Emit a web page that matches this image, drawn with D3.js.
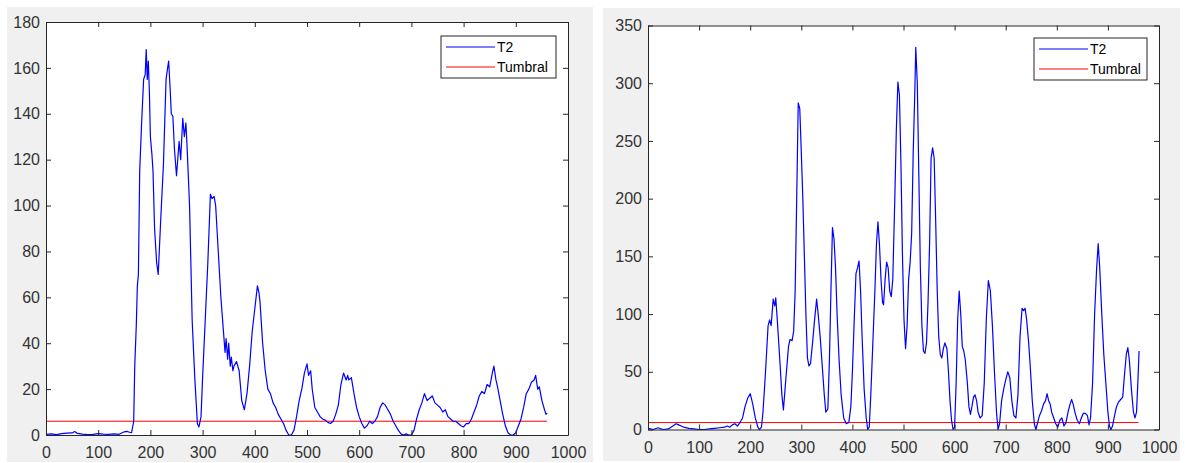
<!DOCTYPE html>
<html lang="en">
  <head>
    <meta charset="UTF-8" />
    <title>T2 vs Tumbral</title>
    <script src="https://d3js.org/d3.v7.min.js"></script>
    <style>
      body { margin: 0; background: #fff; }
      text { font-family: "Liberation Sans", Arial, sans-serif; }
    </style>
  </head>
  <body>
    <script>
      // ---- data ----
      const xTicks = [0, 100, 200, 300, 400, 500, 600, 700, 800, 900, 1000];
      const yTicksA = [0, 20, 40, 60, 80, 100, 120, 140, 160, 180];
      const yTicksB = [0, 50, 100, 150, 200, 250, 300, 350];
      const legendLabels = ["T2", "Tumbral"];
      const thresholdA = 6;
      const thresholdB = 6;
      const thresholdRange = [1, 960];

      const t2aX = [1, 10, 20, 30, 40, 50, 55, 60, 70, 80, 90, 100, 110, 120, 130, 140, 150, 155, 160, 164,
        168, 170, 173, 175, 177, 179.5, 183, 187, 190, 192, 194, 196, 198, 200, 203, 205, 208, 212, 215,
        220, 225, 230, 233, 235, 238, 240, 243, 246, 250, 255, 258, 262, 265, 268, 270, 275, 280, 285,
        290, 293, 297, 300, 305, 310, 315, 318, 322, 325, 330, 335, 340, 343, 345, 348, 350, 353, 355, 358, 360,
        365, 370, 375, 380, 385, 390, 395, 400, 405, 408, 410, 415, 420, 425, 430, 435, 440, 445, 450,
        455, 460, 465, 470, 475, 480, 485, 490, 495, 500, 503, 507, 510, 515, 520, 525, 530, 535, 540,
        545, 550, 555, 560, 565, 570, 575, 578, 580, 585, 590, 595, 600, 605, 610, 615, 620, 625, 630,
        635, 640, 645, 650, 655, 660, 665, 670, 675, 680, 685, 690, 695, 700, 705, 710, 715, 720, 725,
        730, 735, 740, 745, 750, 755, 760, 765, 770, 775, 780, 785, 790, 795, 800, 805, 810, 815, 820,
        825, 830, 835, 840, 845, 850, 855, 858, 862, 865, 870, 875, 880, 885, 890, 895, 900, 905, 910,
        915, 920, 925, 930, 935, 938, 942, 945, 950, 955, 958, 960];
      const t2aY = [0.3, 0.5, 0.2, 0.6, 0.8, 0.9, 1.5, 0.7, 0.4, 0.2, 0.3, 0.6, 0.4, 0.3, 0.5, 0.3, 1.4, 1.6, 1.2, 1.0,
        6, 30, 48, 65, 70, 115, 135, 155, 157, 168, 155, 163, 150, 130, 122, 115, 90, 75, 70,
        95, 118, 155, 160, 163, 150, 140, 139, 125, 113, 128, 120, 138, 130, 136, 127, 100, 50, 25,
        5, 3.5, 8, 25, 50, 75, 105, 103, 104, 100, 80, 60, 45, 36, 42, 33, 40, 30, 34, 28, 30,
        32, 28, 15, 11, 18, 30, 45, 55, 65, 62, 58, 40, 28, 20, 18, 14, 12, 9, 7,
        5, 2, 0, 0, 2, 8, 15, 20, 27, 31, 26, 28, 20, 12, 10, 8, 7, 6.5, 5.5,
        5, 6, 9, 13, 22, 27, 24, 26, 24, 25, 18, 12, 8, 5, 3, 4, 6, 5, 6,
        8, 12, 14, 13, 11, 9, 6, 4, 2, 0.5, 0, 0.5, 0, 0, 2, 7, 11, 14, 18,
        15, 16, 17, 14, 13, 12, 10, 11, 8, 7, 6, 6, 5, 4, 3.5, 5, 5, 7, 10,
        13, 17, 19, 18, 22, 21, 27, 30, 24, 21, 15, 9, 4, 1, 0, 0, 1, 4, 7,
        12, 18, 20, 23, 24, 26, 20, 21, 15, 11, 9, 9.5];

      const t2bX = [1, 10, 20, 25, 30, 40, 45, 50, 55, 60, 65, 70, 80, 90, 100, 110, 120, 130, 140, 150,
        155, 160, 165, 170, 175, 180, 185, 190, 195, 200, 205, 210, 215, 218, 222, 225, 230, 235, 238,
        241, 245, 248, 250, 253, 258, 262, 265, 270, 275, 278, 282, 285, 288, 291, 294, 297, 300, 303,
        306, 309, 312, 315, 318, 322, 326, 330, 333, 337, 341, 345, 348, 352, 355, 358, 361, 364, 367,
        370, 374, 378, 383, 388, 393, 397, 400, 404, 407, 410, 413, 416, 419, 423, 427, 430, 433, 436,
        440, 444, 447, 450, 453, 456, 459, 461, 464, 467, 470, 473, 476, 479, 483, 486, 489, 492, 495,
        498, 501, 504, 507, 510, 513, 516, 519, 522, 524, 527, 530, 533, 536, 539, 542, 545, 548, 551,
        554, 557, 560, 563, 566, 569, 572, 575, 578, 581, 585, 588, 591, 594, 597, 600, 603, 606, 609,
        612, 615, 618, 621, 625, 628, 631, 634, 637, 640, 643, 646, 650, 654, 658, 662, 666, 670, 674,
        678, 682, 685, 688, 692, 696, 700, 704, 708, 712, 716, 720, 724, 728, 732, 735, 738, 741, 745,
        748, 752, 756, 759, 762, 766, 770, 774, 778, 781, 784, 787, 790, 794, 798, 802, 806, 810, 814,
        818, 822, 826, 829, 832, 836, 840, 844, 848, 852, 856, 860, 863, 866, 870, 874, 878, 881, 884,
        888, 892, 896, 900, 903, 906, 909, 913, 917, 921, 925, 929, 932, 936, 939, 942, 946, 950, 953,
        956, 959, 961];
      const t2bY = [1, 0, 1.5, 0.5, 0, 0.5, 2, 3.5, 5, 4, 3, 2, 1, 0.5, 0, 0, 0.5, 1, 1.5, 2,
        3, 2, 4, 5, 3, 6, 10, 20, 27, 31, 22, 10, 2, 0, 2, 15, 50, 90, 95,
        90, 113, 107, 114, 95, 60, 30, 17, 45, 72, 78, 77, 85, 120, 200, 283, 278, 240, 200,
        150, 100, 62, 55, 57, 75, 95, 113, 100, 80, 55, 30, 15, 18, 60, 120, 175, 165, 140,
        100, 60, 30, 10, 5, 6, 20, 50, 100, 135, 140, 146, 120, 80, 35, 10, 0, 2, 30,
        75, 120, 160, 180, 160, 130, 110, 108, 130, 145, 140, 120, 115, 130, 200, 260, 301, 290, 230,
        150, 95, 70, 90, 130, 145, 170, 240, 290, 331, 300, 220, 140, 90, 68, 66, 75, 110, 160,
        235, 244, 235, 180, 120, 80, 65, 62, 70, 75, 70, 50, 25, 8, 0, 2, 40, 95, 120,
        100, 72, 68, 60, 40, 20, 13, 20, 28, 30, 25, 15, 10, 12, 40, 95, 129, 120, 90,
        50, 15, 0, 5, 25, 35, 43, 50, 45, 25, 12, 10, 30, 80, 105, 103, 105, 95, 75,
        55, 25, 5, 0, 5, 12, 16, 22, 25, 31, 25, 22, 15, 10, 5, 2, 8, 10, 3,
        6, 15, 22, 26, 22, 14, 8, 5, 10, 14, 14, 12, 4, 10, 40, 100, 140, 161, 140,
        100, 65, 40, 15, 3, 0, 3, 12, 20, 24, 26, 28, 45, 65, 71, 60, 35, 15, 10,
        15, 45, 68];

      // ---- layout ----
      const W = 1186, H = 463;
      const panels = [
        { bg: [7, 7, 586, 455], box: [46, 22, 568, 435], xs: t2aX, ys: t2aY, yTicks: yTicksA,
          yMax: 180, thr: thresholdA, legend: [441, 36, 556, 78] },
        { bg: [603, 8, 577, 453], box: [648, 25.5, 1159, 429.5], xs: t2bX, ys: t2bY, yTicks: yTicksB,
          yMax: 350, thr: thresholdB, legend: [1034, 38, 1147, 80] }
      ];

      const svg = d3.select("body").append("svg")
        .attr("width", W).attr("height", H);

      const axisColor = "#262626";

      panels.forEach((p) => {
        svg.append("rect")
          .attr("x", p.bg[0]).attr("y", p.bg[1])
          .attr("width", p.bg[2]).attr("height", p.bg[3])
          .attr("fill", "#f0f0f0");

        const [x0, y0, x1, y1] = p.box;
        svg.append("rect")
          .attr("x", x0).attr("y", y0)
          .attr("width", x1 - x0).attr("height", y1 - y0)
          .attr("fill", "#fff");

        const x = d3.scaleLinear().domain([0, 1000]).range([x0, x1]);
        const y = d3.scaleLinear().domain([0, p.yMax]).range([y1, y0]);

        const g = svg.append("g");

        // threshold line
        g.append("path")
          .datum(thresholdRange)
          .attr("fill", "none")
          .attr("stroke", "#ff0000")
          .attr("stroke-width", 1)
          .attr("d", d3.line().x((d) => x(d)).y(() => y(p.thr)));

        // T2 curve
        const pts = p.xs.map((v, i) => [v, p.ys[i]]);
        g.append("path")
          .datum(pts)
          .attr("fill", "none")
          .attr("stroke", "#0000ff")
          .attr("stroke-width", 1.2)
          .attr("stroke-linejoin", "round")
          .attr("d", d3.line().x((d) => x(d[0])).y((d) => y(d[1])));

        // axes: ticks point inward, box on
        const styleAxis = (sel, withText) => {
          sel.select(".domain").attr("stroke", axisColor);
          sel.selectAll(".tick line").attr("stroke", axisColor);
          sel.selectAll("text")
            .attr("fill", withText ? "#333" : "none")
            .style("font-size", "16px");
        };
        const fmt = d3.format("d");

        svg.append("g")
          .attr("transform", `translate(0,${y1})`)
          .call(d3.axisBottom(x).tickValues(xTicks).tickFormat(fmt).tickSizeInner(-5).tickSizeOuter(0).tickPadding(12))
          .call((s) => styleAxis(s, true));
        svg.append("g")
          .attr("transform", `translate(0,${y0})`)
          .call(d3.axisTop(x).tickValues(xTicks).tickSizeInner(-5).tickSizeOuter(0).tickFormat(""))
          .call((s) => styleAxis(s, false));
        svg.append("g")
          .attr("transform", `translate(${x0},0)`)
          .call(d3.axisLeft(y).tickValues(p.yTicks).tickFormat(fmt).tickSizeInner(-5).tickSizeOuter(0).tickPadding(6))
          .call((s) => styleAxis(s, true));
        svg.append("g")
          .attr("transform", `translate(${x1},0)`)
          .call(d3.axisRight(y).tickValues(p.yTicks).tickSizeInner(-5).tickSizeOuter(0).tickFormat(""))
          .call((s) => styleAxis(s, false));

        // legend
        const [lx0, ly0, lx1, ly1] = p.legend;
        const lg = svg.append("g");
        lg.append("rect")
          .attr("x", lx0).attr("y", ly0)
          .attr("width", lx1 - lx0).attr("height", ly1 - ly0)
          .attr("fill", "#fff").attr("stroke", axisColor);
        const legendColors = ["#0000ff", "#ff0000"];
        legendLabels.forEach((lab, i) => {
          const cy = ly0 + 11 + i * 20;
          lg.append("line")
            .attr("x1", lx0 + 5).attr("x2", lx0 + 54)
            .attr("y1", cy).attr("y2", cy)
            .attr("stroke", legendColors[i]).attr("stroke-width", 1);
          lg.append("text")
            .attr("x", lx0 + 56).attr("y", cy)
            .attr("dy", "0.35em")
            .attr("fill", "#000")
            .style("font-size", "14px")
            .text(lab);
        });
      });
    </script>
  </body>
</html>
